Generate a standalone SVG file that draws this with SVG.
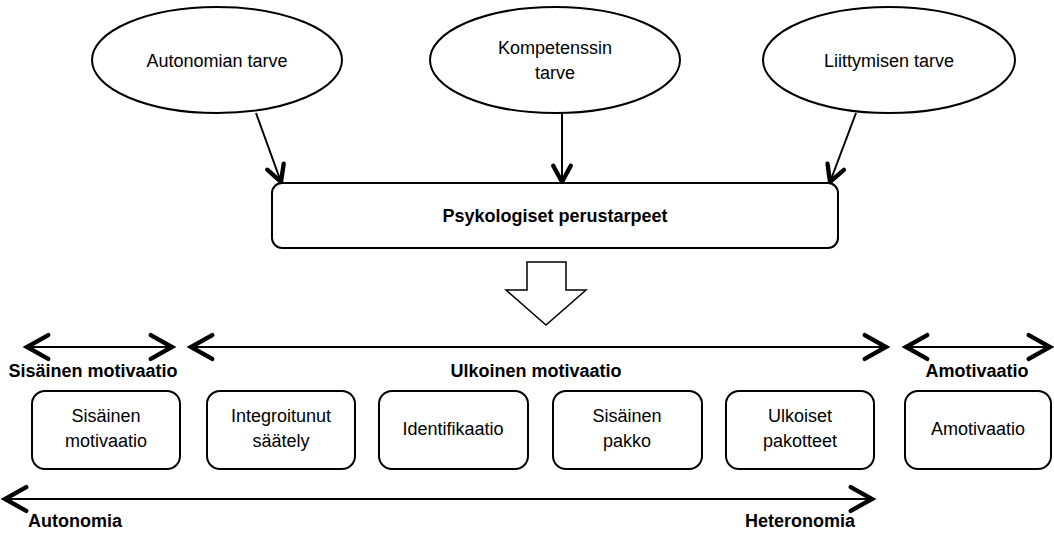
<svg xmlns="http://www.w3.org/2000/svg" width="1054" height="533" viewBox="0 0 1054 533">
<style>
.n{fill:#fff;stroke:#000;stroke-width:2}
.t{font-family:"Liberation Sans",Arial,sans-serif;font-size:18px;fill:#000;text-anchor:middle}
.b{font-family:"Liberation Sans",Arial,sans-serif;font-size:18px;font-weight:bold;fill:#000;text-anchor:middle}
.c{fill:none;stroke:#000;stroke-width:2}
</style>
<defs>
<marker id="ah" markerUnits="userSpaceOnUse" markerWidth="30" markerHeight="30" viewBox="-20 -12 24 24" refX="0" refY="0" orient="auto-start-reverse" overflow="visible">
<path d="M-17,-9.5 L0,0 L-17,9.5" fill="none" stroke="#000" stroke-width="3.5" stroke-linecap="round" stroke-linejoin="miter"/>
</marker>
<marker id="ahs" markerUnits="userSpaceOnUse" markerWidth="30" markerHeight="30" viewBox="-20 -12 24 24" refX="0" refY="0" orient="auto" overflow="visible">
<path d="M-13,-7 L0,0 L-13,7" fill="none" stroke="#000" stroke-width="3.5" stroke-linecap="round" stroke-linejoin="miter"/>
</marker>
</defs>
<g id="connectors">
<line class="c" x1="256" y1="113" x2="281" y2="182" marker-end="url(#ahs)"/>
<line class="c" x1="562" y1="113" x2="562" y2="182" marker-end="url(#ahs)"/>
<line class="c" x1="856" y1="113" x2="830" y2="182" marker-end="url(#ahs)"/>
<polygon points="527,262 566,262 566,290 586,290 546,325 506,290 527,290" fill="#fff" stroke="#000" stroke-width="1.5"/>
<line class="c" x1="27" y1="347" x2="172" y2="347" marker-start="url(#ah)" marker-end="url(#ah)"/>
<line class="c" x1="191" y1="347" x2="886" y2="347" marker-start="url(#ah)" marker-end="url(#ah)"/>
<line class="c" x1="906" y1="347" x2="1050" y2="347" marker-start="url(#ah)" marker-end="url(#ah)"/>
<line class="c" x1="5" y1="499" x2="872" y2="499" marker-start="url(#ah)" marker-end="url(#ah)"/>
</g>
<g id="autonomian-tarve"><ellipse class="n" cx="217" cy="60" rx="125" ry="53"/><text class="t" x="217" y="67">Autonomian tarve</text></g>
<g id="kompetenssin-tarve"><ellipse class="n" cx="555" cy="60" rx="125" ry="53"/><text class="t" x="555" y="54">Kompetenssin</text><text class="t" x="555" y="79">tarve</text></g>
<g id="liittymisen-tarve"><ellipse class="n" cx="889" cy="60" rx="126" ry="53"/><text class="t" x="889" y="67">Liittymisen tarve</text></g>
<g id="psykologiset"><rect class="n" x="272" y="183" width="566" height="65" rx="10"/><text class="b" x="555" y="222">Psykologiset perustarpeet</text></g>
<g id="label-sisainen"><text class="b" x="93" y="377">Sisäinen motivaatio</text></g>
<g id="label-ulkoinen"><text class="b" x="536" y="377">Ulkoinen motivaatio</text></g>
<g id="label-amotivaatio"><text class="b" x="977" y="377">Amotivaatio</text></g>
<g id="label-autonomia"><text class="b" x="28" y="527" style="text-anchor:start">Autonomia</text></g>
<g id="label-heteronomia"><text class="b" x="800" y="527">Heteronomia</text></g>
<g id="box-sisainen"><rect class="n" x="32" y="391" width="148" height="78" rx="13"/><text class="t" x="106" y="422">Sisäinen</text><text class="t" x="106" y="447">motivaatio</text></g>
<g id="box-integroitunut"><rect class="n" x="207" y="391" width="148" height="78" rx="13"/><text class="t" x="281" y="422">Integroitunut</text><text class="t" x="281" y="447">säätely</text></g>
<g id="box-identifikaatio"><rect class="n" x="379" y="391" width="149" height="78" rx="13"/><text class="t" x="453" y="435">Identifikaatio</text></g>
<g id="box-pakko"><rect class="n" x="553" y="391" width="149" height="78" rx="13"/><text class="t" x="627" y="422">Sisäinen</text><text class="t" x="627" y="447">pakko</text></g>
<g id="box-ulkoiset"><rect class="n" x="726" y="391" width="148" height="78" rx="13"/><text class="t" x="800" y="422">Ulkoiset</text><text class="t" x="800" y="447">pakotteet</text></g>
<g id="box-amotivaatio"><rect class="n" x="905" y="391" width="146" height="78" rx="13"/><text class="t" x="978" y="435">Amotivaatio</text></g>
</svg>
